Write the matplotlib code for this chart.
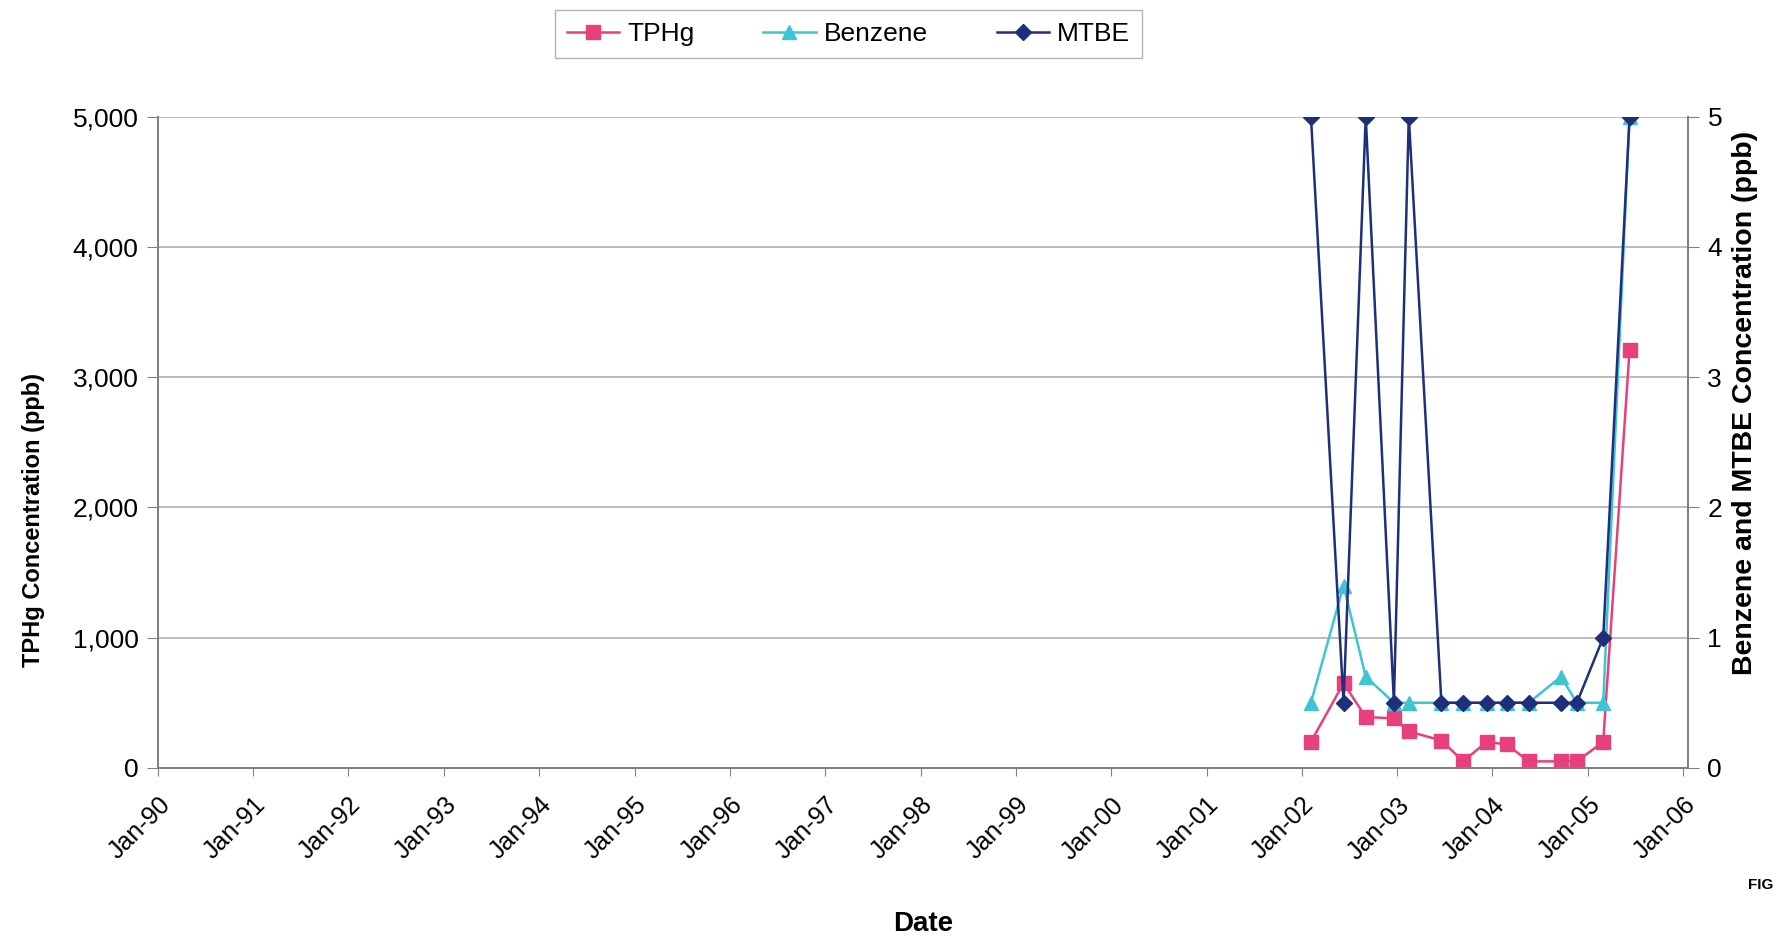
import matplotlib
matplotlib.use("Agg")
import matplotlib.pyplot as plt
from matplotlib.ticker import FuncFormatter
from datetime import datetime

plt.rcParams['font.family'] = ['Liberation Sans', 'DejaVu Sans']

# sampling dates
fechas = [
    "2002-02-05", "2002-06-10", "2002-09-03", "2002-12-20", "2003-02-15",
    "2003-06-20", "2003-09-12", "2003-12-10", "2004-02-25", "2004-05-20",
    "2004-09-20", "2004-11-20", "2005-03-01", "2005-06-10",
]
tphg = [200, 650, 390, 380, 280, 210, 50, 200, 180, 50, 50, 50, 200, 3210]
benceno = [0.5, 1.4, 0.7, 0.5, 0.5, 0.5, 0.5, 0.5, 0.5, 0.5, 0.7, 0.5, 0.5, 5.0]
mtbe = [5.0, 0.5, 5.0, 0.5, 5.0, 0.5, 0.5, 0.5, 0.5, 0.5, 0.5, 0.5, 1.0, 5.0]

anios = list(range(1990, 2007))
etiquetas_x = [f"Jan-{a % 100:02d}" for a in anios]

x = [datetime.strptime(f, "%Y-%m-%d") for f in fechas]

col_tphg = "#e8407c"
col_benz = "#3fc4d4"
col_mtbe = "#1e2f7c"

fig = plt.figure(figsize=(17.75, 9.48), dpi=100)
ax = fig.add_axes([0.089, 0.19, 0.862, 0.687])
ax2 = ax.twinx()

l1, = ax.plot(x, tphg, color=col_tphg, marker="s", markersize=10, linewidth=1.8, label="TPHg")
l2, = ax2.plot(x, benceno, color=col_benz, marker="^", markersize=10, linewidth=1.8, label="Benzene")
l3, = ax2.plot(x, mtbe, color=col_mtbe, marker="D", markersize=8, linewidth=1.8, label="MTBE")

ax.set_ylim(0, 5000)
ax.set_yticks([0, 1000, 2000, 3000, 4000, 5000])
ax.yaxis.set_major_formatter(FuncFormatter(lambda v, p: f"{int(v):,}"))
ax2.set_ylim(0, 5)
ax2.set_yticks([0, 1, 2, 3, 4, 5])

ax.set_xlim(datetime(1990, 1, 1), datetime(2006, 1, 20))
ax.set_xticks([datetime(a, 1, 1) for a in anios])
ax.set_xticklabels(etiquetas_x, rotation=45, ha="right", rotation_mode="anchor", fontsize=18)

ax.grid(axis="y", color="#b0b0b0", linewidth=1.2)
ax.set_axisbelow(True)
for a in (ax, ax2):
    for s in a.spines.values():
        s.set_color("#808080")
        s.set_linewidth(1.3)
    a.tick_params(axis="y", labelsize=19, length=8, color="#808080", pad=6)
ax.tick_params(axis="x", length=6, color="#808080", pad=12)
ax.spines["top"].set_visible(False)
ax2.spines["top"].set_visible(False)

ax.set_ylabel("TPHg Concentration (ppb)", fontsize=17, fontweight="bold")
ax.yaxis.set_label_coords(-0.074, 0.38)
ax2.set_ylabel("Benzene and MTBE Concentration (ppb)", fontsize=20.5, fontweight="bold")
ax2.yaxis.set_label_coords(1.029, 0.56)
ax.set_xlabel("Date", fontsize=20, fontweight="bold", labelpad=34)

leg = fig.legend(handles=[l1, l2, l3], loc="center", bbox_to_anchor=(0.478, 0.964), ncol=3,
                 fontsize=19, frameon=True, fancybox=False, edgecolor="#a0a0a0",
                 handlelength=2.0, handletextpad=0.3, columnspacing=2.6, borderpad=0.45)

fig.text(0.985, 0.066, "FIG", fontsize=11, fontweight="bold", ha="left", va="center")

fig.savefig("out.png", dpi=100)
